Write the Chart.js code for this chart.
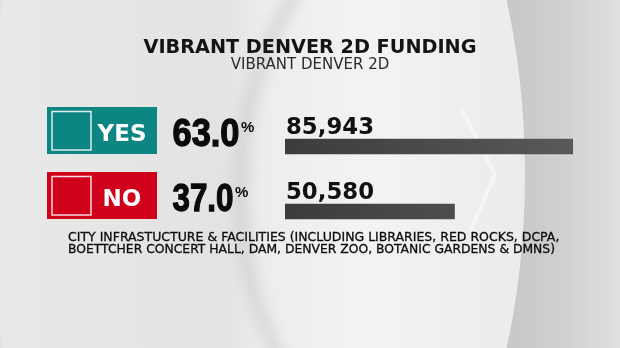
<!DOCTYPE html>
<html>
<head>
<meta charset="utf-8">
<script src="https://cdn.jsdelivr.net/npm/chart.js@4.4.1/dist/chart.umd.min.js"></script>
<style>
  html, body { margin: 0; padding: 0; background: #e6e6e6; }
  #wrap { position: relative; width: 620px; height: 348px; }
</style>
</head>
<body>
<div id="wrap"><canvas id="results"></canvas></div>
<script>
// 데이터
const choices = ['YES', 'NO'];
const votes = [85943, 50580];
const percents = [63.0, 37.0];
const boxColors = ['#0d8683', '#d0021b'];
const titleText = 'VIBRANT DENVER 2D FUNDING';
const subtitleText = 'VIBRANT DENVER 2D';
const noteLines = [
  'CITY INFRASTUCTURE & FACILITIES (INCLUDING LIBRARIES, RED ROCKS, DCPA,',
  'BOETTCHER CONCERT HALL, DAM, DENVER ZOO, BOTANIC GARDENS & DMNS)',
];

// 배경: 회색 바탕 위의 밝은 곡선 면
const backdrop = {
  id: 'backdrop',
  beforeDraw(chart) {
    const { ctx, width, height } = chart;
    ctx.save();
    let g = ctx.createLinearGradient(0, 0, width, 0);
    g.addColorStop(0, '#e2e2e2');
    g.addColorStop(0.82, '#c8c8c8');
    g.addColorStop(0.9, '#cfcfcf');
    g.addColorStop(1, '#e0e0e0');
    ctx.fillStyle = g;
    ctx.fillRect(0, 0, width, height);

    g = ctx.createLinearGradient(0, 0, 530, 0);
    g.addColorStop(0, '#e8e8e8');
    g.addColorStop(0.42, '#e3e3e3');
    g.addColorStop(0.5, '#ededed');
    g.addColorStop(0.7, '#f3f3f3');
    g.addColorStop(1, '#ebebeb');
    ctx.fillStyle = g;
    ctx.beginPath();
    ctx.ellipse(255, 174, 270, 480, 0, 0, Math.PI * 2);
    ctx.fill();

    // 왼쪽 곡선 그림자
    ctx.filter = 'blur(6px)';
    ctx.strokeStyle = 'rgba(150,150,150,0.2)';
    ctx.lineWidth = 16;
    ctx.beginPath();
    ctx.ellipse(520, 190, 280, 330, 0, Math.PI * 0.62, Math.PI * 1.38);
    ctx.stroke();

    // 오른쪽 화살표 모양 하이라이트
    ctx.filter = 'blur(1px)';
    ctx.strokeStyle = 'rgba(255,255,255,0.7)';
    ctx.lineWidth = 3;
    ctx.beginPath();
    ctx.moveTo(462, 110);
    ctx.lineTo(495, 174);
    ctx.lineTo(470, 232);
    ctx.stroke();
    ctx.restore();
  },
};

const labels = {
  id: 'labels',
  afterDatasetsDraw(chart) {
    const { ctx } = chart;
    const bars = chart.getDatasetMeta(0).data;
    ctx.save();
    ctx.textBaseline = 'alphabetic';

    ctx.fillStyle = '#141414';
    ctx.textAlign = 'center';
    ctx.font = 'bold 20px "DejaVu Sans"';
    ctx.fillText(titleText, 310, 53, 333);
    ctx.fillStyle = '#2a2a2a';
    ctx.font = '15px "DejaVu Sans"';
    ctx.fillText(subtitleText, 310, 69, 164);

    bars.forEach((bar, i) => {
      const top = bar.y - 39.5;
      ctx.fillStyle = boxColors[i];
      ctx.fillRect(47, top, 110, 47);
      ctx.strokeStyle = 'rgba(255,255,255,0.85)';
      ctx.lineWidth = 1.5;
      ctx.strokeRect(52, top + 4.5, 39, 38.5);

      ctx.fillStyle = '#ffffff';
      ctx.textAlign = 'center';
      ctx.font = 'bold 23px "DejaVu Sans"';
      ctx.fillText(choices[i], 122, top + 33.5);

      // 퍼센트 (좁은 글꼴 느낌으로 가로 압축)
      const pct = percents[i].toFixed(1);
      ctx.fillStyle = '#0a0a0a';
      ctx.strokeStyle = '#0a0a0a';
      ctx.lineWidth = 1.3;
      ctx.textAlign = 'left';
      ctx.font = 'bold 39px "Liberation Sans"';
      const pw = ctx.measureText(pct).width;
      const target = i === 0 ? 67 : 61;
      ctx.fillText(pct, 172.5, bar.y - 0.5, target);
      ctx.strokeText(pct, 172.5, bar.y - 0.5, target);
      ctx.font = 'bold 15px "Liberation Sans"';
      ctx.fillText('%', 172 + Math.min(pw, target) + 2, bar.y - 15, 14);

      ctx.fillStyle = '#111111';
      ctx.font = 'bold 23px "DejaVu Sans"';
      ctx.fillText(votes[i].toLocaleString('en-US'), 286, bar.y - 12.5, 88);
    });

    ctx.fillStyle = '#0c0c0c';
    ctx.strokeStyle = '#0c0c0c';
    ctx.lineWidth = 0.3;
    ctx.textAlign = 'left';
    ctx.font = '12.5px "DejaVu Sans"';
    noteLines.forEach((line, i) => {
      const w = i === 0 ? 493 : 487;
      ctx.fillText(line, 68, 241 + i * 12, w);
      ctx.strokeText(line, 68, 241 + i * 12, w);
    });
    ctx.restore();
  },
};

const el = document.getElementById('results');
new Chart(el, {
  type: 'bar',
  data: {
    labels: choices,
    datasets: [{
      data: votes,
      barThickness: 15,
      borderWidth: 0,
      backgroundColor(c) {
        const area = c.chart.chartArea;
        if (!area) return '#444';
        const g = c.chart.ctx.createLinearGradient(area.left, 0, area.right, 0);
        g.addColorStop(0, '#3c3c3c');
        g.addColorStop(1, '#595959');
        return g;
      },
    }],
  },
  options: {
    indexAxis: 'y',
    responsive: true,
    maintainAspectRatio: false,
    animation: false,
    layout: { padding: { left: 285, right: 47, top: 114, bottom: 104 } },
    plugins: { legend: { display: false }, tooltip: { enabled: false } },
    scales: {
      x: { display: false, min: 0, max: Math.max(...votes) },
      y: { display: false },
    },
  },
  plugins: [backdrop, labels],
});
</script>
</body>
</html>
